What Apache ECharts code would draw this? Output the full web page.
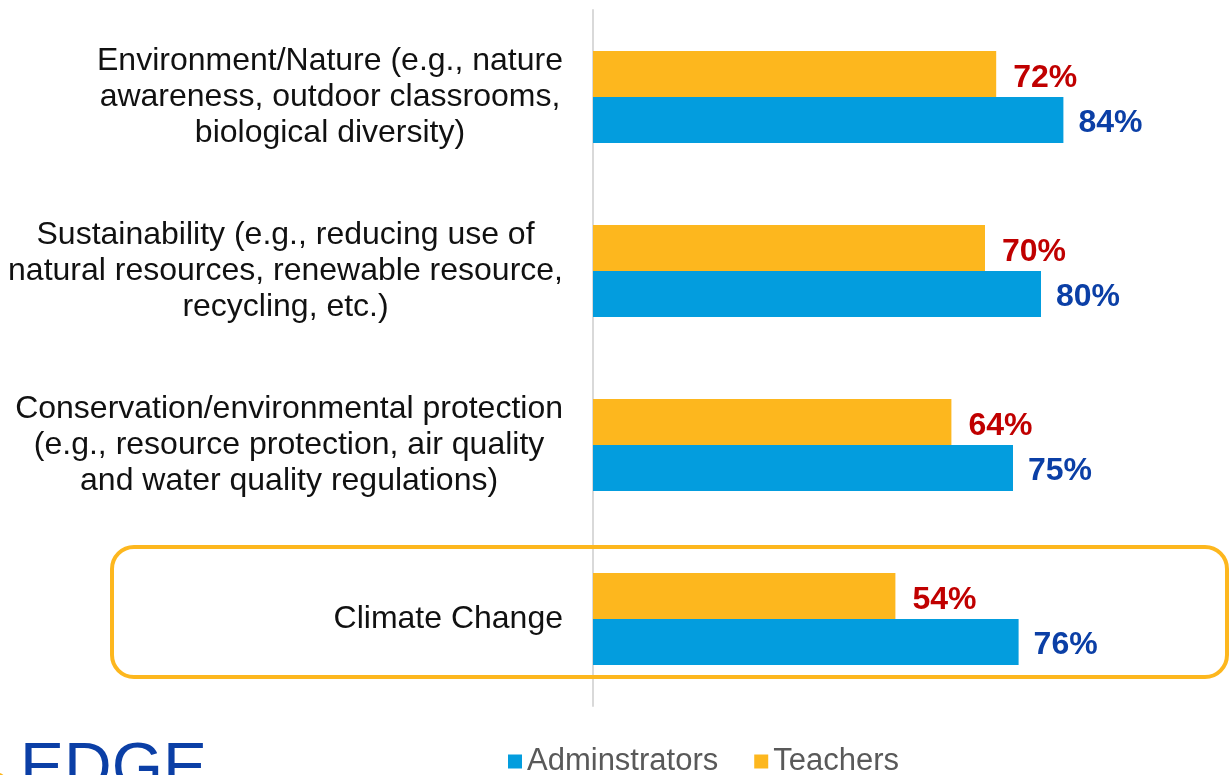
<!DOCTYPE html>
<html>
<head>
<meta charset="utf-8">
<script src="https://cdn.jsdelivr.net/npm/echarts@6/dist/echarts.min.js"></script>
<style>html,body{margin:0;padding:0;background:#fff;}#c{width:1230px;height:775px;}</style>
</head>
<body>
<div id="c"></div>
<script>
const categories = [
  "Environment/Nature (e.g., nature\nawareness, outdoor classrooms,\nbiological diversity)",
  "Sustainability (e.g., reducing use of\nnatural resources, renewable resource,\nrecycling, etc.)",
  "Conservation/environmental protection\n(e.g., resource protection, air quality\nand water quality regulations)",
  "Climate Change"
];
const teachers = [72, 70, 64, 54];
const administrators = [84, 80, 75, 76];
const seriesNames = ["Adminstrators", "Teachers"];

const FONT = "'Liberation Sans', Arial, sans-serif";
const chart = echarts.init(document.getElementById('c'));
chart.setOption({
  animation: false,
  grid: { left: 593, right: 77, top: 10, bottom: 69, containLabel: false },
  legend: {
    data: seriesNames,
    top: 741, left: 503,
    itemWidth: 14, itemHeight: 14, itemGap: 36,
    icon: 'rect',
    textStyle: { fontSize: 31, color: '#595959', fontFamily: FONT }
  },
  xAxis: { type: 'value', min: 0, max: 100, show: false },
  yAxis: {
    type: 'category', data: categories, inverse: true,
    axisLine: { show: true, lineStyle: { color: '#D9D9D9', width: 2 } },
    axisTick: { show: false },
    axisLabel: {
      margin: 30,
      formatter: function (v) {
        return v.split('\n').map(l => '{a|' + l + '}').join('\n');
      },
      rich: { a: { align: 'center', fontSize: 32, lineHeight: 36, color: '#111111', fontFamily: FONT } }
    }
  },
  series: [
    {
      name: 'Teachers', type: 'bar', data: teachers, barWidth: 46, barGap: '0%',
      itemStyle: { color: '#FDB71E' },
      label: { show: true, position: 'right', distance: 17, offset: [0, 4], formatter: '{c}%',
        fontSize: 32, fontWeight: 'bold', color: '#C00000', fontFamily: FONT }
    },
    {
      name: 'Adminstrators', type: 'bar', data: administrators, barWidth: 46, barGap: '0%',
      itemStyle: { color: '#039DDE' },
      label: { show: true, position: 'right', distance: 15, offset: [0, 3], formatter: '{c}%',
        fontSize: 32, fontWeight: 'bold', color: '#0B3FA6', fontFamily: FONT }
    }
  ]
});

const cy = chart.convertToPixel({ yAxisIndex: 0 }, categories[3]);
chart.setOption({
  graphic: [
    { type: 'rect', shape: { x: 112, y: cy - 72, width: 1115, height: 130, r: 22 },
      style: { fill: 'none', stroke: '#FDB71E', lineWidth: 4 }, z: 10 },
    { type: 'text', x: 20, y: 738,
      style: { text: 'EDGE', fontSize: 66, fill: '#0B3FA6', fontFamily: FONT, textVerticalAlign: 'top' } },
    { type: 'circle', shape: { cx: -6, cy: 788, r: 16 }, style: { fill: '#FDB71E' } }
  ]
});
</script>
</body>
</html>
